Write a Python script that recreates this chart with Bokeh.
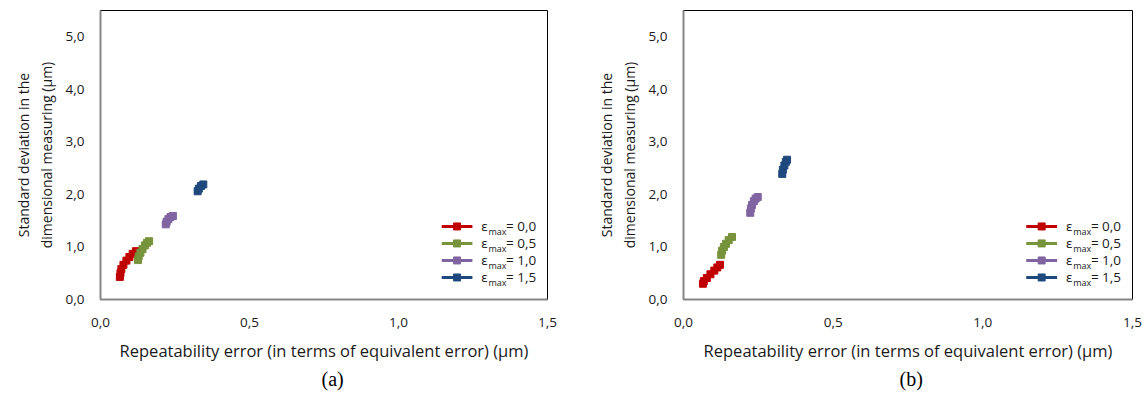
from bokeh.plotting import figure
from bokeh.models import Range1d, FixedTicker, CustomJSTickFormatter, Title, ColumnDataSource
from bokeh.layouts import row
from bokeh.embed import file_html
from bokeh.resources import INLINE
from bokeh.core.properties import value

# ---------------- data ----------------
series_labels = ["0,0", "0,5", "1,0", "1,5"]
series_colors = ["#C00000", "#77933C", "#8064A2", "#1F497D"]

# chart (a)
a_red_x = [0.065, 0.067, 0.070, 0.077, 0.087, 0.097, 0.108, 0.119]
a_red_y = [0.43, 0.50, 0.58, 0.66, 0.74, 0.81, 0.87, 0.92]
a_green_x = [0.126, 0.128, 0.134, 0.141, 0.149, 0.156, 0.163]
a_green_y = [0.75, 0.82, 0.89, 0.96, 1.03, 1.08, 1.11]
a_purple_x = [0.219, 0.222, 0.228, 0.235, 0.243]
a_purple_y = [1.43, 1.48, 1.53, 1.57, 1.59]
a_blue_x = [0.326, 0.330, 0.337, 0.345]
a_blue_y = [2.06, 2.11, 2.16, 2.19]

# chart (b)
b_red_x = [0.065, 0.068, 0.078, 0.090, 0.103, 0.113, 0.122]
b_red_y = [0.30, 0.35, 0.41, 0.48, 0.55, 0.61, 0.66]
b_green_x = [0.126, 0.129, 0.135, 0.142, 0.151, 0.162]
b_green_y = [0.85, 0.93, 1.00, 1.06, 1.13, 1.19]
b_purple_x = [0.223, 0.225, 0.229, 0.235, 0.241, 0.248]
b_purple_y = [1.65, 1.73, 1.80, 1.87, 1.92, 1.95]
b_blue_x = [0.330, 0.332, 0.337, 0.342, 0.346]
b_blue_y = [2.39, 2.47, 2.55, 2.62, 2.66]

x_ticks = [0.0, 0.5, 1.0, 1.5]
y_ticks = [0.0, 1.0, 2.0, 3.0, 4.0, 5.0]
x_max = 1.5
y_max = 5.5

x_title = "Repeatability error (in terms of equivalent error) (\u00b5m)"
y_title = "Standard deviation in the\ndimensional measuring (\u00b5m)"

FONT = "Open Sans"
TEXT_COLOR = "#1a1a1a"


def make_chart(series, caption, caption_offset, width, border_right):
    p = figure(width=width, height=398, output_backend="svg", toolbar_location=None,
               x_range=Range1d(0, x_max), y_range=Range1d(0, y_max),
               min_border_left=100, min_border_right=border_right,
               min_border_top=10, min_border_bottom=99)
    p.grid.visible = False
    p.outline_line_color = "#000000"
    p.outline_line_width = 1
    p.background_fill_color = "white"
    p.border_fill_color = "white"

    fmt = CustomJSTickFormatter(code="return tick.toFixed(1).replace('.', ',');")
    for ax, ticks in ((p.xaxis[0], x_ticks), (p.yaxis[0], y_ticks)):
        ax.ticker = FixedTicker(ticks=ticks)
        ax.formatter = fmt
        ax.major_tick_line_color = None
        ax.minor_tick_line_color = None
        ax.major_tick_out = 0
        ax.major_tick_in = 0
        ax.minor_tick_out = 0
        ax.minor_tick_in = 0
        ax.axis_line_color = "#868686"
        ax.axis_line_width = 2
        ax.major_label_text_font = FONT
        ax.major_label_text_font_size = "13.5px"
        ax.major_label_text_color = TEXT_COLOR
        ax.axis_label_text_font = FONT
        ax.axis_label_text_font_style = "normal"
        ax.axis_label_text_color = TEXT_COLOR
    p.xaxis[0].axis_label = x_title
    p.xaxis[0].axis_label_text_font_size = "16.5px"
    p.xaxis[0].major_label_standoff = 18
    p.xaxis[0].axis_label_standoff = 9
    p.yaxis[0].axis_label = y_title
    p.yaxis[0].axis_label_text_font_size = "14px"
    p.yaxis[0].major_label_standoff = 16
    p.yaxis[0].axis_label_standoff = 7

    for (xs, ys), color in zip(series, series_colors):
        p.line(xs, ys, line_color=color, line_width=2.5)
        p.scatter(xs, ys, marker="square", size=7, fill_color=color, line_color=color)

    # legend (manual, to allow the subscript)
    lx0, lx1 = 1.145, 1.248
    tx = 1.278
    rows_y = [1.39, 1.067, 0.743, 0.419]
    for label, color, yy in zip(series_labels, series_colors, rows_y):
        p.line([lx0, lx1], [yy, yy], line_color=color, line_width=3)
        p.scatter([(lx0 + lx1) / 2], [yy], marker="square", size=7,
                  fill_color=color, line_color=color)
    src = ColumnDataSource(dict(x=[tx] * 4, y=rows_y, t=["\u03b5"] * 4))
    p.text("x", "y", text="t", source=src, text_font=value(FONT), text_font_size="13.5px",
           text_color=TEXT_COLOR, text_baseline="middle", text_align="left")
    src2 = ColumnDataSource(dict(x=[tx + 0.024] * 4, y=[v - 0.10 for v in rows_y], t=["max"] * 4))
    p.text("x", "y", text="t", source=src2, text_font=value(FONT), text_font_size="9px",
           text_color=TEXT_COLOR, text_baseline="middle", text_align="left")
    src3 = ColumnDataSource(dict(x=[tx + 0.083] * 4, y=rows_y,
                                 t=["= " + s for s in series_labels]))
    p.text("x", "y", text="t", source=src3, text_font=value(FONT), text_font_size="13.5px",
           text_color=TEXT_COLOR, text_baseline="middle", text_align="left")

    cap = Title(text=caption, align="left", text_font="Liberation Serif",
                text_font_size="20px", text_font_style="normal", text_color="#000000",
                standoff=2, offset=caption_offset)
    p.add_layout(cap, "below")
    return p


p1 = make_chart([(a_red_x, a_red_y), (a_green_x, a_green_y),
                 (a_purple_x, a_purple_y), (a_blue_x, a_blue_y)], "(a)", 221, 583, 36)
p2 = make_chart([(b_red_x, b_red_y), (b_green_x, b_green_y),
                 (b_purple_x, b_purple_y), (b_blue_x, b_blue_y)], "(b)", 216, 564, 15)

layout = row(p1, p2, spacing=0)
open("out.html", "w").write(file_html(layout, INLINE))
